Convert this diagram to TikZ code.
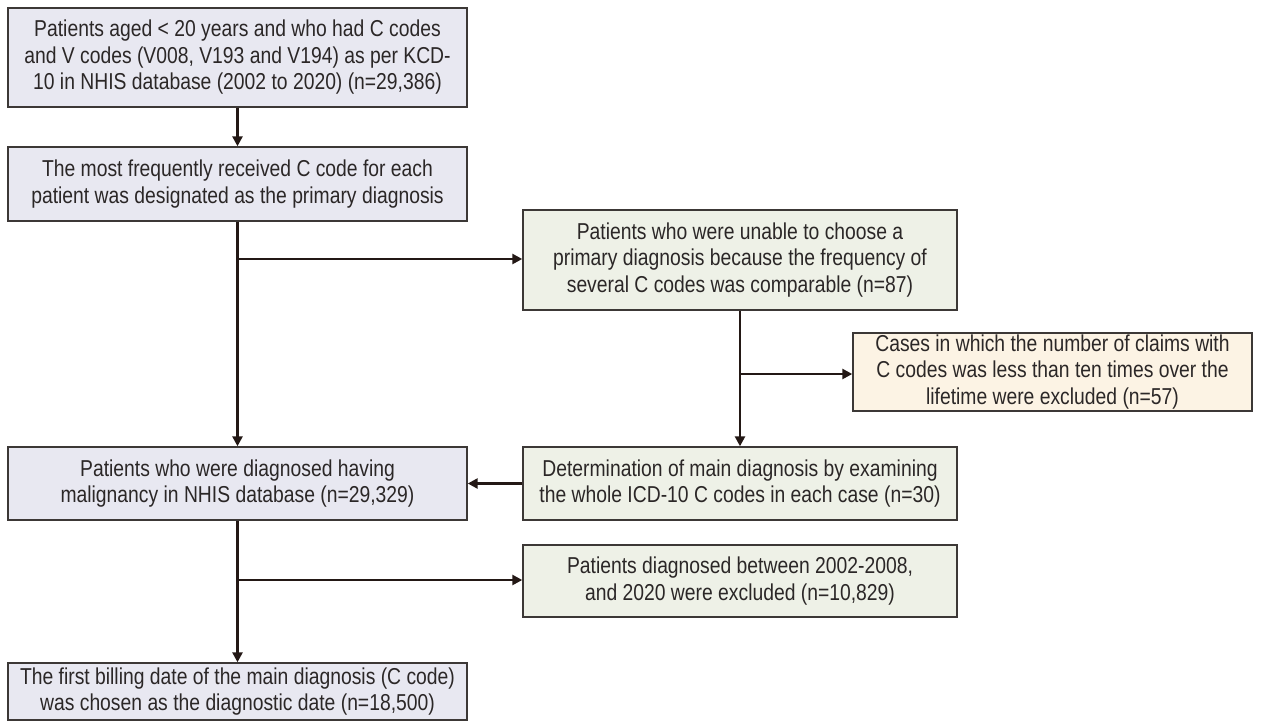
\documentclass[tikz,border=0pt]{standalone}
\usepackage{fontspec}
\setmainfont{Liberation Sans}[FakeStretch=0.84]
\usetikzlibrary{arrows.meta}
\definecolor{lav}{HTML}{E8E8F1}
\definecolor{grn}{HTML}{EEF1E7}
\definecolor{bge}{HTML}{FCF3E4}
\definecolor{brd}{HTML}{3C3836}
\definecolor{arr}{HTML}{231815}
\definecolor{txt}{HTML}{2B2727}
\tikzset{
  x=1pt,y=-1pt,
  box/.style={draw=brd, line width=1.4pt, rectangle, align=center, inner sep=0pt,
    text=txt, font=\fontsize{23}{26.5}\selectfont},
  lbox/.style={box, fill=lav},
  gbox/.style={box, fill=grn},
  bbox/.style={box, fill=bge},
  flow/.style={draw=arr, line width=2.6pt, -{Triangle[length=10pt,width=10pt]}},
}
\begin{document}
\begin{tikzpicture}
\useasboundingbox (0,0) rectangle (1261,726);
\node[lbox, minimum width=459, minimum height=99] (b1) at (237.5,57.5)
  {Patients aged < 20 years and who had C codes\\and V codes (V008, V193 and V194) as per KCD-\\10 in NHIS database (2002 to 2020) (n=29,386)};
\node[lbox, minimum width=459, minimum height=74] (b2) at (237.5,184)
  {The most frequently received C code for each\\patient was designated as the primary diagnosis};
\node[gbox, minimum width=434, minimum height=100] (b3) at (740,260)
  {Patients who were unable to choose a\\primary diagnosis because the frequency of\\several C codes was comparable (n=87)};
\node[bbox, minimum width=399, minimum height=78] (b4) at (1052.5,372)
  {Cases in which the number of claims with\\C codes was less than ten times over the\\lifetime were excluded (n=57)};
\node[lbox, minimum width=459, minimum height=73] (b5) at (237.5,483.5)
  {Patients who were diagnosed having\\malignancy in NHIS database (n=29,329)};
\node[gbox, minimum width=434, minimum height=73] (b6) at (740,483.5)
  {Determination of main diagnosis by examining\\the whole ICD-10 C codes in each case (n=30)};
\node[gbox, minimum width=434, minimum height=72] (b8) at (740,581)
  {Patients diagnosed between 2002-2008,\\and 2020 were excluded (n=10,829)};
\node[lbox, minimum width=459, minimum height=57] (b7) at (237.5,691.5)
  {The first billing date of the main diagnosis (C code)\\was chosen as the diagnostic date (n=18,500)};
\coordinate (j1) at (237.5,259);
\coordinate (j2) at (740,374);
\coordinate (j3) at (237.5,580);
\draw[flow] (b1) -- (b2);
\draw[flow] (b2) -- (b5);
\draw[flow] (j1) -- (j1 -| b3.west);
\draw[flow] (b3) -- (b6);
\draw[flow] (j2) -- (j2 -| b4.west);
\draw[flow] (b6) -- (b5);
\draw[flow] (b5) -- (b7);
\draw[flow] (j3) -- (j3 -| b8.west);
\end{tikzpicture}
\end{document}
